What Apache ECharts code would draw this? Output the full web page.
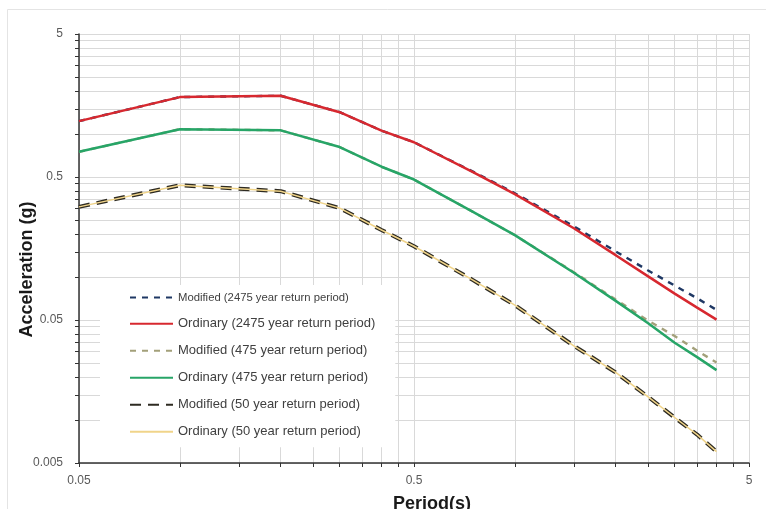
<!DOCTYPE html>
<html>
<head>
<meta charset="utf-8">
<script src="https://cdn.jsdelivr.net/npm/echarts@6/dist/echarts.min.js"></script>
<style>
html,body{margin:0;padding:0;background:#fff;}
#chart{width:766px;height:509px;}
</style>
</head>
<body>
<div id="chart"></div>
<script>
// ---- data ----
const periods = [0.05, 0.1, 0.2, 0.3, 0.4, 0.5, 0.75, 1.0, 1.5, 2.0, 2.5, 3.0, 3.5, 4.0];
const mod2475 = [1.23, 1.81, 1.85, 1.42, 1.055, 0.875, 0.545, 0.385, 0.226, 0.151, 0.111, 0.087, 0.071, 0.0588];
const ord2475 = [1.23, 1.81, 1.85, 1.42, 1.055, 0.875, 0.54, 0.379, 0.219, 0.142, 0.101, 0.0765, 0.061, 0.0503];
const mod475  = [0.75, 1.08, 1.06, 0.81, 0.59, 0.48, 0.285, 0.196, 0.108, 0.0695, 0.0495, 0.0386, 0.0305, 0.0252];
const ord475  = [0.75, 1.08, 1.06, 0.81, 0.59, 0.48, 0.285, 0.196, 0.107, 0.068, 0.0475, 0.0347, 0.0275, 0.0223];
const mod50   = [0.309, 0.438, 0.398, 0.303, 0.213, 0.164, 0.095, 0.0635, 0.033, 0.0215, 0.0145, 0.0104, 0.0079, 0.006];
const ord50   = [0.309, 0.438, 0.398, 0.303, 0.213, 0.164, 0.095, 0.0635, 0.033, 0.0215, 0.0145, 0.0104, 0.0079, 0.006];

const seriesNames = [
  'Modified (2475 year return period)',
  'Ordinary (2475 year return period)',
  'Modified (475 year return period)',
  'Ordinary (475 year return period)',
  'Modified (50 year return period)',
  'Ordinary (50 year return period)'
];

// axis tick labels and grid/tick positions
const xTickLabels = [0.05, 0.5, 5];
const yTickLabels = [0.005, 0.05, 0.5, 5];
const xGridValues = [0.05, 0.1, 0.15, 0.2, 0.25, 0.3, 0.35, 0.4, 0.45,
                     0.5, 1.0, 1.5, 2.0, 2.5, 3.0, 3.5, 4.0, 4.5, 5];
const yGridValues = [0.005, 0.01, 0.015, 0.02, 0.025, 0.03, 0.035, 0.04, 0.045,
                     0.05, 0.1, 0.15, 0.2, 0.25, 0.3, 0.35, 0.4, 0.45,
                     0.5, 1.0, 1.5, 2.0, 2.5, 3.0, 3.5, 4.0, 4.5, 5];

function pairs(ys) { return periods.map((p, i) => [p, ys[i]]); }
function nearestLabel(v, list) {
  let best = list[0];
  list.forEach(l => { if (Math.abs(Math.log(l) - Math.log(v)) < Math.abs(Math.log(best) - Math.log(v))) best = l; });
  return String(best);
}

const chart = echarts.init(document.getElementById('chart'), null, {renderer: 'canvas'});
const FONT = '"Liberation Sans", Arial, sans-serif';

const option = {
  animation: false,
  backgroundColor: '#fff',
  textStyle: {fontFamily: FONT},
  graphic: [{
    type: 'rect', silent: true, z: -10,
    shape: {x: 7.5, y: 9.5, width: 770, height: 520},
    style: {fill: 'none', stroke: '#e4e4e4', lineWidth: 1}
  }],
  grid: {left: 79, right: 17, top: 34, bottom: 46, containLabel: false, outerBoundsMode: 'none'},
  xAxis: {
    type: 'log', logBase: 10, min: 0.05, max: 5,
    name: 'Period(s)', nameLocation: 'middle', nameGap: 32, nameMoveOverlap: false,
    nameTextStyle: {fontSize: 18, fontWeight: 'bold', color: '#1a1a1a', fontFamily: FONT, padding: [0, 0, 0, 36]},
    axisLine: {show: true, lineStyle: {color: '#333', width: 1.5}},
    axisTick: {show: true, inside: false, length: 4, customValues: xGridValues, lineStyle: {color: '#333'}},
    axisLabel: {show: true, customValues: xTickLabels, margin: 12, fontSize: 12, color: '#595959', fontFamily: FONT,
      formatter: v => nearestLabel(v, xTickLabels)},
    splitLine: {show: true, lineStyle: {color: '#d9d9d9', width: 1}},
    minorTick: {show: false}, minorSplitLine: {show: false}
  },
  yAxis: {
    type: 'log', logBase: 10, min: 0.005, max: 5,
    name: 'Acceleration (g)', nameLocation: 'middle', nameGap: 43, nameRotate: 90, nameMoveOverlap: false,
    nameTextStyle: {fontSize: 18, fontWeight: 'bold', color: '#1a1a1a', fontFamily: FONT, padding: [0, 42, 0, 0]},
    axisLine: {show: true, lineStyle: {color: '#333', width: 1.5}},
    axisTick: {show: true, inside: false, length: 4, customValues: yGridValues, lineStyle: {color: '#333'}},
    axisLabel: {show: true, customValues: yTickLabels, margin: 16, fontSize: 12, color: '#595959', fontFamily: FONT,
      formatter: v => nearestLabel(v, yTickLabels)},
    splitLine: {show: true, lineStyle: {color: '#d9d9d9', width: 1}},
    minorTick: {show: false}, minorSplitLine: {show: false}
  },
  legend: {
    show: true, orient: 'vertical', left: 100, top: 285,
    padding: [7, 20, 9, 29],
    backgroundColor: '#ffffff',
    itemWidth: 43, itemHeight: 14, itemGap: 14,
    itemStyle: {opacity: 0},
    textStyle: {fontSize: 13, color: '#404040', fontFamily: FONT},
    data: [
      {name: seriesNames[0], textStyle: {fontSize: 11.3}},
      {name: seriesNames[1]},
      {name: seriesNames[2]},
      {name: seriesNames[3]},
      {name: seriesNames[4]},
      {name: seriesNames[5]}
    ],
    z: 10
  },
  series: [
    {name: seriesNames[0], type: 'line', data: pairs(mod2475), showSymbol: false, symbol: 'none', z: 2,
      lineStyle: {color: '#1f3864', width: 2.4, type: [6, 6]}, itemStyle: {color: '#1f3864'}},
    {name: seriesNames[1], type: 'line', data: pairs(ord2475), showSymbol: false, symbol: 'none', z: 3,
      lineStyle: {color: '#d7282f', width: 2.5, type: 'solid'}, itemStyle: {color: '#d7282f'}},
    {name: seriesNames[2], type: 'line', data: pairs(mod475), showSymbol: false, symbol: 'none', z: 2,
      lineStyle: {color: '#a3a07a', width: 2.4, type: [6, 6]}, itemStyle: {color: '#a3a07a'}},
    {name: seriesNames[3], type: 'line', data: pairs(ord475), showSymbol: false, symbol: 'none', z: 3,
      lineStyle: {color: '#27a567', width: 2.5, type: 'solid'}, itemStyle: {color: '#27a567'}},
    {name: seriesNames[4], type: 'line', data: pairs(mod50), showSymbol: false, symbol: 'none', z: 2,
      lineStyle: {color: '#2e2b22', width: 4, type: [11, 7]}, itemStyle: {color: '#2e2b22'}},
    {name: seriesNames[5], type: 'line', data: pairs(ord50), showSymbol: false, symbol: 'none', z: 3,
      lineStyle: {color: '#f0d48a', width: 1.5, type: 'solid'}, itemStyle: {color: '#f0d48a'}}
  ]
};
chart.setOption(option);
</script>
</body>
</html>
